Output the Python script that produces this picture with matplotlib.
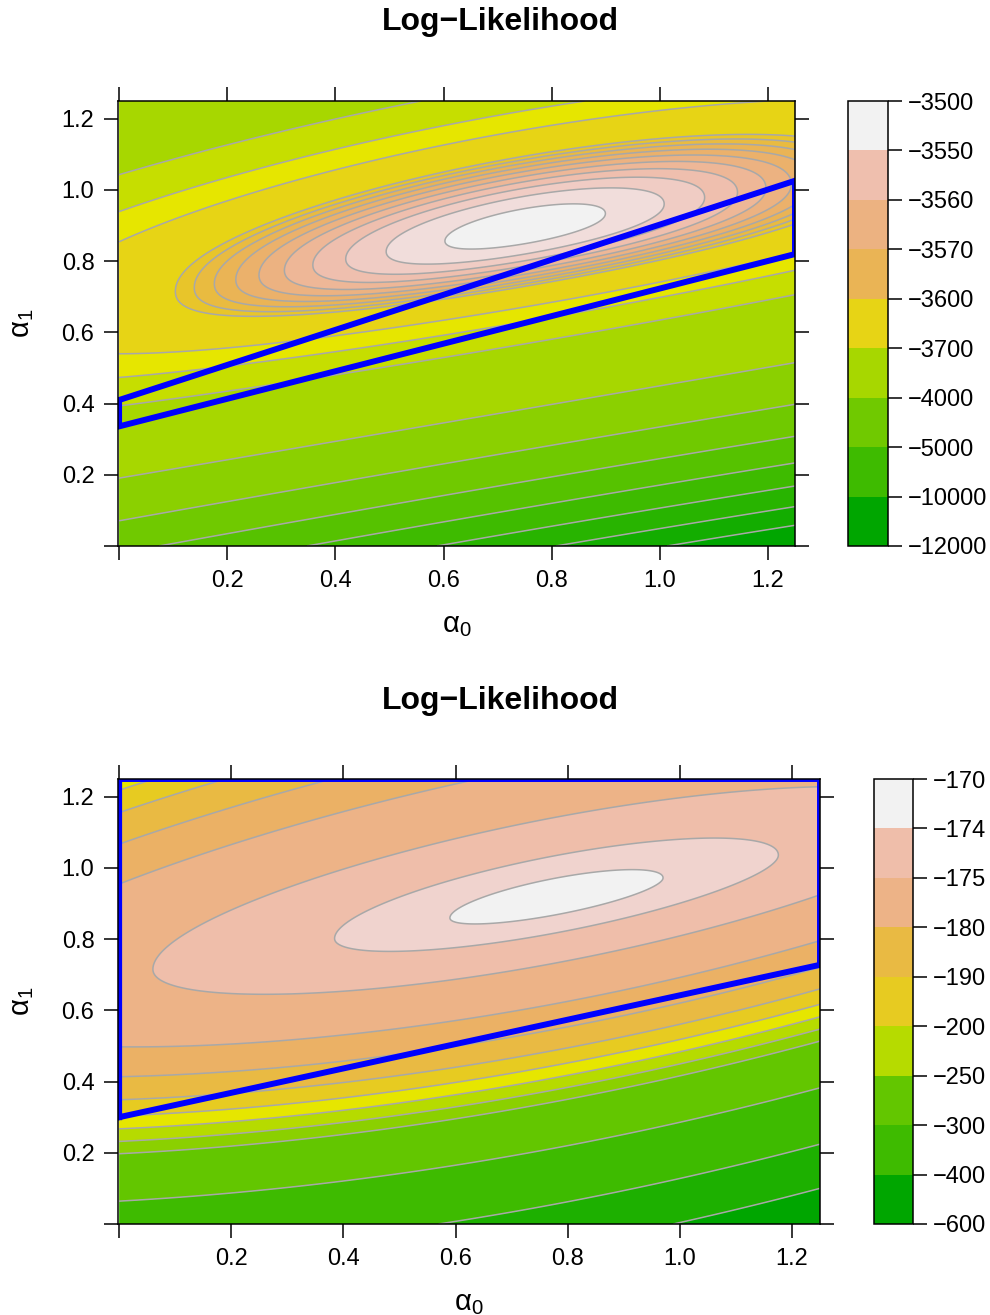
import numpy as np
import matplotlib
matplotlib.use('Agg')
import matplotlib.pyplot as plt
from matplotlib.colors import hsv_to_rgb, ListedColormap, BoundaryNorm
from matplotlib.cm import ScalarMappable

plt.rcParams['font.family'] = ['Liberation Sans', 'DejaVu Sans']
plt.rcParams['mathtext.fontset'] = 'custom'
plt.rcParams['mathtext.rm'] = 'Liberation Sans'
plt.rcParams['mathtext.it'] = 'Liberation Sans:italic'
plt.rcParams['contour.negative_linestyle'] = 'solid'

# contour levels drawn as grey lines (fill bands sit between them)
top_lines = [-11000, -10000, -9000, -8000, -7000, -6000, -5000, -4000, -3800, -3700,
             -3600, -3590, -3580, -3570, -3560, -3550, -3540, -3530, -3520, -3510]
top_lo, top_hi = -13000, -3500
bottom_lines = [-295, -275, -250, -230, -225, -220, -215, -209, -201, -192,
                -180, -174, -172]
bottom_lo, bottom_hi = -600, -170

# colour key breaks
top_key = [-12000, -10000, -5000, -4000, -3700, -3600, -3570, -3560, -3550, -3500]
bottom_key = [-600, -400, -300, -250, -200, -190, -180, -175, -174, -170]

# restricted parameter regions (outlined in blue)
top_region_a0 = [0.0, 1.25, 1.25, 0.0]
top_region_a1 = [0.41, 1.026, 0.82, 0.336]
bottom_region_a0 = [0.0, 0.0, 1.25, 1.25]
bottom_region_a1 = [0.30, 1.25, 1.25, 0.728]

# surface parameters: peak, ridge through the peak, curvature along / across the ridge
top_par = dict(lmax=-3505.0, c0=0.751, c1=0.896, s=0.26, q=-0.03, b=227.0,
               a=1500.0, e_up=2750.0, e_dn=6760.0, p=2.7)
bottom_par = dict(lmax=-171.4, c0=0.78, c1=0.915, s=0.296, q=0.026, b=16.6,
                  s_up=112.0, s_dn=170.0, w=0.3)

tick_vals = [0.0, 0.2, 0.4, 0.6, 0.8, 1.0, 1.2]
tick_text = ['', '0.2', '0.4', '0.6', '0.8', '1.0', '1.2']


def terrain_colors(n):
    # same construction as R's terrain.colors(n)
    k = n // 2
    h = (4/12, 2/12, 0.0)
    s = (1.0, 1.0, 0.0)
    v = (0.65, 0.9, 0.95)
    first = np.c_[np.linspace(h[0], h[1], k), np.linspace(s[0], s[1], k),
                  np.linspace(v[0], v[1], k)]
    m = n - k + 1
    second = np.c_[np.linspace(h[1], h[2], m), np.linspace(s[1], s[2], m),
                   np.linspace(v[1], v[2], m)][1:]
    return hsv_to_rgb(np.vstack([first, second]))


def loglik_top(x, y, k):
    u = x - k['c0']
    v = y - (k['c1'] + k['s']*u + k['q']*u**2)
    e = np.where(v > 0, k['e_up'], k['e_dn'])
    return k['lmax'] - k['b']*u**2 - k['a']*v**2 - e*np.abs(v)**k['p']


def loglik_bottom(x, y, k):
    u = x - k['c0']
    v = y - (k['c1'] + k['s']*u + k['q']*u**2)
    sl = np.where(v > 0, k['s_up'], k['s_dn'])
    return k['lmax'] - k['b']*u**2 - sl*(np.sqrt(v**2 + k['w']**2) - k['w'])


def panel(fig, rect, crect, z, lines, lo, hi, key, reg_x, reg_y, title_y):
    ax = fig.add_axes(rect)
    levels = [lo] + lines + [hi]
    band_cols = terrain_colors(len(levels) - 1)
    ax.contourf(A0, A1, z, levels=levels, colors=band_cols, antialiased=True)
    ax.contour(A0, A1, z, levels=lines, colors='#a8a8a8', linewidths=1.1,
               linestyles='solid')
    ax.plot(reg_x + reg_x[:1], reg_y + reg_y[:1], color='#0000ff', lw=4.3,
            solid_joinstyle='miter', zorder=3)
    ax.set_xlim(-0.002, 1.25)
    ax.set_ylim(0.0, 1.25)
    ax.set_xticks(tick_vals)
    ax.set_xticklabels(tick_text)
    ax.set_yticks(tick_vals)
    ax.set_yticklabels(tick_text)
    ax.tick_params(direction='out', length=10, width=1.1, labelsize=17,
                   top=True, right=True, pad=7)
    for sp in ax.spines.values():
        sp.set_linewidth(1.1)
        sp.set_zorder(4)

    # axis titles
    bb = ax.get_position()
    xc = (bb.x0 + bb.x1) / 2
    yc = (bb.y0 + bb.y1) / 2
    fig.text(xc, bb.y0 - 79/H, r'$\mathrm{\alpha}_0$', ha='center', va='center',
             fontsize=21)
    fig.text(22/W, yc, r'$\mathrm{\alpha}_1$', ha='center', va='center',
             fontsize=21, rotation=90)

    # colour key: equal-height boxes, colours picked from the band palette
    cax = fig.add_axes(crect)
    nb = len(key) - 1
    idx = np.round(np.linspace(1, len(band_cols), nb)).astype(int) - 1
    sm = ScalarMappable(norm=BoundaryNorm(np.arange(nb + 1), nb),
                        cmap=ListedColormap(band_cols[idx]))
    cb = fig.colorbar(sm, cax=cax, ticks=np.arange(nb + 1))
    cb.set_ticklabels([str(k).replace('-', '\u2212') for k in key])
    cb.outline.set_linewidth(1.1)
    cax.tick_params(direction='out', length=10, width=1.1, labelsize=17, pad=4)

    fig.text(0.505, title_y, 'Log\u2212Likelihood', ha='center', va='center',
             fontsize=23, fontweight='bold')
    return ax


a0 = np.linspace(0.0, 1.25, 501)
a1 = np.linspace(0.0, 1.25, 501)
A0, A1 = np.meshgrid(a0, a1)

ll_top = loglik_top(A0, A1, top_par)
ll_bottom = loglik_bottom(A0, A1, bottom_par)

W, H = 990, 1315
fig = plt.figure(figsize=(W/100, H/100), dpi=100)

panel(fig, [118/W, 1 - 546/H, 677/W, 445/H], [848/W, 1 - 546/H, 40/W, 445/H],
      ll_top, top_lines, top_lo, top_hi, top_key,
      top_region_a0, top_region_a1, 1 - 22/H)
panel(fig, [118/W, 1 - 1224/H, 702/W, 445/H], [874/W, 1 - 1224/H, 39/W, 445/H],
      ll_bottom, bottom_lines, bottom_lo, bottom_hi, bottom_key,
      bottom_region_a0, bottom_region_a1, 1 - 701/H)

fig.savefig('out.png', dpi=100)
